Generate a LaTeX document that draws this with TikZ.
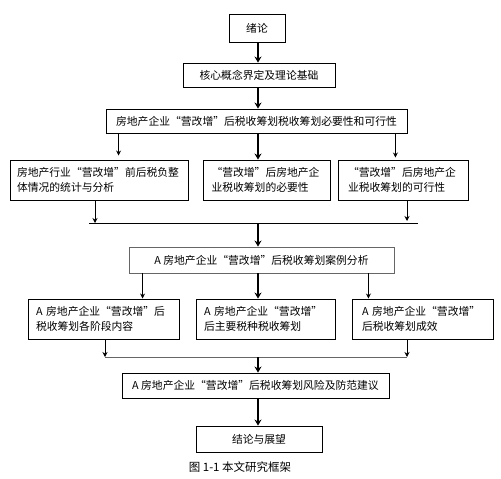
\documentclass[tikz,border=0pt]{standalone}
\usepackage{fontspec}
\setmainfont{Noto Sans CJK SC}
\newfontfamily\widequote{Noto Sans CJK SC}[RawFeature=+fwid]
\newcommand{\ygz}{{\widequote “}营改增{\widequote ”}}
\usetikzlibrary{arrows, arrows.meta, positioning}
\tikzstyle{stage} = [rectangle, draw=black, line width=0.9pt, inner sep=0pt, text centered, font=\fontsize{10.8}{15}\selectfont]
\tikzstyle{branch} = [rectangle, draw=black, line width=0.9pt, inner sep=0pt, minimum height=40pt, align=left, font=\fontsize{10.8}{15}\selectfont]
\tikzstyle{mainarrow} = [line width=2pt,-{Stealth[length=6pt,width=7pt]}]
\tikzstyle{subarrow} = [line width=0.8pt,-{Stealth[length=5pt,width=5pt]}]
\tikzstyle{joinline} = [line width=0.8pt]

\begin{document}
\begin{tikzpicture}[x=1pt, y=-1pt]
\useasboundingbox (0,0) rectangle (501,479);

% Introduction and theory
\node (intro) [stage, minimum width=56pt, minimum height=28pt] at (257,28) {绪论};
\node (theory) [stage, minimum width=152pt, minimum height=24pt] at (259,75) {核心概念界定及理论基础};
\node (feasible) [stage, minimum width=301pt, minimum height=24pt] at (256.5,121) {房地产企业\ygz 后税收筹划税收筹划必要性和可行性};

% Three analysis branches
\node (burden) [branch, minimum width=178pt, text width=164pt] at (99,180) {房地产行业\ygz 前后税负整\\体情况的统计与分析};
\node (need) [branch, minimum width=127pt, text width=110pt] at (266.5,180) {\ygz 后房地产企\\业税收筹划的必要性};
\node (possible) [branch, minimum width=130pt, text width=110pt] at (403,180) {\ygz 后房地产企\\业税收筹划的可行性};

% Case study
\node (case) [stage, draw=black!60, minimum width=265pt, minimum height=26pt] at (261.5,260) {A 房地产企业\ygz 后税收筹划案例分析};
\node (phases) [branch, minimum width=151pt, text width=135pt] at (103.5,319) {A 房地产企业\ygz 后\\税收筹划各阶段内容};
\node (taxes) [branch, minimum width=139pt, text width=123pt] at (265.5,319) {A 房地产企业\ygz\\后主要税种税收筹划};
\node (effect) [branch, minimum width=141pt, text width=121pt] at (422.5,319) {A 房地产企业\ygz\\后税收筹划成效};

% Risk and conclusion
\node (risk) [stage, minimum width=267pt, minimum height=25pt] at (255.5,385.5) {A 房地产企业\ygz 后税收筹划风险及防范建议};
\node (outlook) [stage, minimum width=126pt, minimum height=26pt] at (259,439) {结论与展望};
\node (caption) [font=\fontsize{11.5}{13}\selectfont] at (240,467) {图 1-1 本文研究框架};

% Merge points
\coordinate (joinA-l) at (89,223);
\coordinate (joinA-r) at (418,223);
\coordinate (joinA-c) at (258,223);
\coordinate (joinB-l) at (105,357);
\coordinate (joinB-r) at (407,357);
\coordinate (joinB-c) at (258,357);

\draw [mainarrow] (intro.south -| joinA-c) -- (theory.north -| joinA-c);
\draw [mainarrow] (theory.south -| joinA-c) -- (feasible.north -| joinA-c);
\draw [mainarrow] (feasible.south -| joinA-c) -- (burden.north -| joinA-c);
\draw [subarrow] ([xshift=13pt]feasible.south west) -- ([xshift=13pt,yshift=4pt]feasible.south west |- burden.north);
\draw [subarrow] ([xshift=-12pt]feasible.south east) -- ([xshift=-12pt,yshift=2pt]feasible.south east |- possible.north);

\draw [subarrow] ([xshift=-4pt]burden.south) -- ([xshift=-4pt]burden.south |- joinA-l);
\draw [subarrow] ([xshift=4pt]possible.south) -- ([xshift=4pt,yshift=2pt]possible.south |- joinA-r);
\draw [joinline] (joinA-l) -- (joinA-r);
\draw [mainarrow] (joinA-c) -- (case.north -| joinA-c);

\draw [mainarrow] (case.south -| joinA-c) -- (phases.north -| joinA-c);
\draw [subarrow] ([xshift=14pt]case.south west) -- ([xshift=14pt]case.south west |- phases.north);
\draw [subarrow] ([xshift=-26pt]case.south east) -- ([xshift=-26pt]case.south east |- effect.north);

\draw [subarrow] (phases.south -| joinB-l) -- (joinB-l);
\draw [subarrow] (effect.south -| joinB-r) -- (joinB-r);
\draw [joinline, draw=black!60] (joinB-l) -- (joinB-r);
\draw [mainarrow] (joinB-c) -- (risk.north -| joinB-c);
\draw [mainarrow] (risk.south -| joinB-c) -- (outlook.north -| joinB-c);

\end{tikzpicture}
\end{document}
